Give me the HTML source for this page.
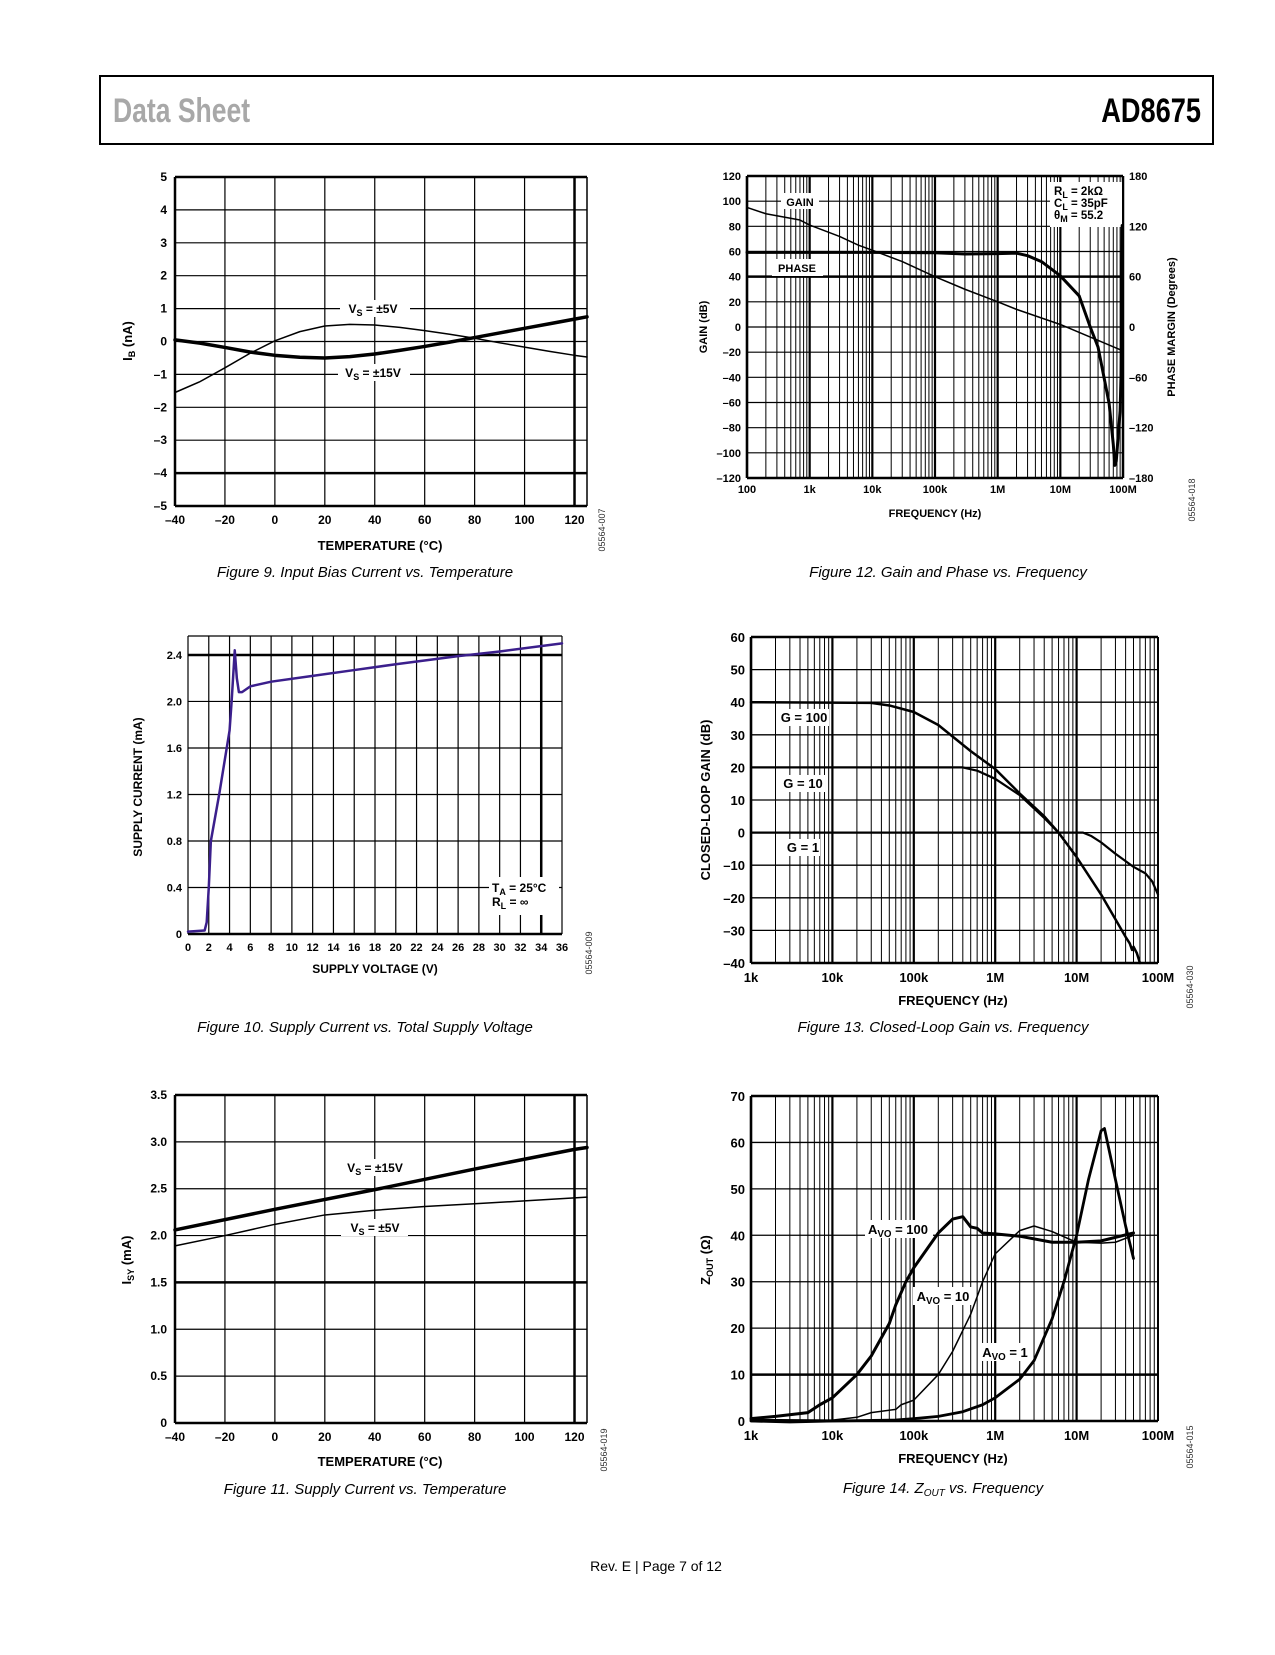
<!DOCTYPE html>
<html><head><meta charset="utf-8">
<style>
html,body{margin:0;padding:0;background:#fff;}
body{width:1275px;height:1650px;position:relative;overflow:hidden;font-family:"Liberation Sans",Arial,sans-serif;}
svg text{font-family:"Liberation Sans",Arial,sans-serif;}
</style></head>
<body>
<svg id="page" width="1275" height="1650" viewBox="0 0 1275 1650" xmlns="http://www.w3.org/2000/svg">
  <rect x="100" y="76" width="1113" height="68" fill="#fff" stroke="#000" stroke-width="2"/>
  <text x="113" y="122" font-size="34" font-weight="bold" fill="#a8a8a8" transform="translate(113,0) scale(0.78,1) translate(-113,0)">Data Sheet</text>
  <text x="1201" y="122" font-size="34" font-weight="bold" fill="#000" text-anchor="end" transform="translate(1201,0) scale(0.8,1) translate(-1201,0)">AD8675</text>
  <text x="656" y="1571" font-size="14" text-anchor="middle" fill="#000">Rev. E | Page 7 of 12</text>
  <g id="charts"></g>
</svg>
<script>
// ---------- Figure 9: input bias current vs temperature ----------
const f9Temp5 = [-40,-30,-20,-10,0,10,20,30,40,50,60,70,80,90,100,110,120,125];
const f9Ib5 = [-1.55,-1.22,-0.8,-0.36,0.02,0.3,0.47,0.52,0.5,0.43,0.33,0.22,0.1,-0.04,-0.17,-0.3,-0.42,-0.47];
const f9Temp15 = [-40,-30,-20,-10,0,10,20,30,40,50,60,70,80,90,100,110,120,125];
const f9Ib15 = [0.05,-0.05,-0.18,-0.32,-0.42,-0.48,-0.5,-0.46,-0.38,-0.27,-0.15,-0.02,0.12,0.26,0.4,0.54,0.68,0.75];
const f9XTicks = [-40,-20,0,20,40,60,80,100,120];
const f9YTicks = [-5,-4,-3,-2,-1,0,1,2,3,4,5];
// ---------- Figure 10: supply current vs supply voltage ----------
const f10V = [0,1.6,1.8,2,2.2,3,4,4.2,4.5,4.7,4.9,5.2,6,8,12,16,20,26,30,36];
const f10I = [0.02,0.03,0.1,0.4,0.8,1.2,1.75,2.0,2.44,2.2,2.08,2.08,2.13,2.17,2.22,2.27,2.32,2.39,2.43,2.5];
const f10XTicks = [0,2,4,6,8,10,12,14,16,18,20,22,24,26,28,30,32,34,36];
const f10YTicks = [0,0.4,0.8,1.2,1.6,2.0,2.4];
const f10YLabels = ["0","0.4","0.8","1.2","1.6","2.0","2.4"];
// ---------- Figure 11: supply current vs temperature ----------
const f11Temp15 = [-40,0,40,80,120,125];
const f11Isy15 = [2.06,2.28,2.49,2.71,2.92,2.94];
const f11Temp5 = [-40,-20,0,20,40,60,80,100,125];
const f11Isy5 = [1.89,2.0,2.12,2.22,2.27,2.31,2.34,2.37,2.41];
const f11YTicks = [0,0.5,1.0,1.5,2.0,2.5,3.0,3.5];
const f11YLabels = ["0","0.5","1.0","1.5","2.0","2.5","3.0","3.5"];
// ---------- Figure 12: gain and phase vs frequency ----------
const f12GainFreq = [100,200,700,1e3,3e3,6e3,1e4,3e4,1e5,3e5,1e6,2e6,1e7,3e7,9e7];
const f12Gain = [95,90,85,81,72,65,61,52,40,30,20,14,2,-8,-18];
const f12PhaseFreq = [100,1e4,1e5,3e5,1e6,2e6,3e6,5e6,1e7,2e7,3e7,4e7,6e7,7e7,7.4e7,7.8e7,9e7,9.5e7,9.7e7];
const f12Phase = [89,89,88.5,87,87.5,88,85,78,61,37,0,-24,-91,-140,-165,-160,-100,-30,121];
const f12GainTicks = [-120,-100,-80,-60,-40,-20,0,20,40,60,80,100,120];
const f12PhaseTicks = [-180,-120,-60,0,60,120,180];
const f12FreqTicks = [100,1e3,1e4,1e5,1e6,1e7,1e8];
const f12FreqLabels = ["100","1k","10k","100k","1M","10M","100M"];
// ---------- Figure 13: closed-loop gain vs frequency ----------
const f13Freq100 = [1e3,3e4,5e4,1e5,2e5,5e5,1e6,2e6,4e6,6e6,1e7,2e7,4e7,4.5e7,4.8e7,5e7,5.5e7,6e7];
const f13G100 = [40,39.8,39,37,33,25,19.5,12,5,0,-7.5,-19,-32,-34,-36,-35,-37,-40];
const f13Freq10 = [1e3,4e5,6e5,1e6,2e6,4e6,6e6];
const f13G10 = [20,20,19,16.5,11.5,4.5,0];
const f13Freq1 = [1e3,1.2e7,1.5e7,2e7,3e7,5e7,7e7,8.5e7,1e8];
const f13G1 = [0,0,-1,-3,-6.5,-10.5,-12.5,-15,-19];
const f13YTicks = [-40,-30,-20,-10,0,10,20,30,40,50,60];
const f13FreqTicks = [1e3,1e4,1e5,1e6,1e7,1e8];
const f13FreqLabels = ["1k","10k","100k","1M","10M","100M"];
// ---------- Figure 14: Zout vs frequency ----------
const f14Freq100 = [1e3,2e3,5e3,7e3,1e4,2e4,3e4,5e4,6e4,8e4,1e5,2e5,3e5,4e5,5e5,6e5,7e5,1e6,2e6,5e6,1e7,2e7,5e7];
const f14Z100 = [0.5,1,1.8,3.5,5,10,14,21,25,30,33,40.5,43.5,44,41.8,41.5,40.5,40.3,39.8,38.5,38.5,38.8,40.5];
const f14Freq10 = [1e3,1e4,2e4,3e4,6e4,7e4,1e5,2e5,3e5,5e5,7e5,1e6,2e6,3e6,5e6,1e7,2e7,3e7,5e7];
const f14Z10 = [0.3,0.2,0.8,1.8,2.5,3.5,4.5,10,15,23,30,36,41,42,40.8,38.5,38.3,38.5,40];
const f14Freq1 = [1e3,3e3,1e4,6e4,1e5,2e5,4e5,7e5,1e6,2e6,3e6,5e6,7e6,1e7,1.4e7,2e7,2.2e7,3e7,4e7,5e7];
const f14Z1 = [0,-0.2,0,0.2,0.5,1,2,3.5,5,9,13,22,30,40,52,62.5,63,52,42,35];
const f14YTicks = [0,10,20,30,40,50,60,70];

const NS = "http://www.w3.org/2000/svg";
const root = document.getElementById('charts');
function el(tag, attrs, parent){
  const e = document.createElementNS(NS, tag);
  for (const k in attrs) e.setAttribute(k, attrs[k]);
  (parent||root).appendChild(e);
  return e;
}
function linScale(d0,d1,r0,r1){return v=>r0+(v-d0)/(d1-d0)*(r1-r0);}
function logScale(d0,d1,r0,r1){return v=>r0+(Math.log10(v)-Math.log10(d0))/(Math.log10(d1)-Math.log10(d0))*(r1-r0);}
function hline(g,x0,x1,y,w){const l=el('line',{x1:x0,x2:x1,y1:y,y2:y,stroke:'#000','stroke-width':w},g);}
function vline(g,x,y0,y1,w){const l=el('line',{x1:x,x2:x,y1:y0,y2:y1,stroke:'#000','stroke-width':w},g);}
function series(g,xs,ys,sx,sy,w,name,color){
  let d='';
  for(let i=0;i<xs.length;i++){d+=(i?'L':'M')+sx(xs[i]).toFixed(2)+','+sy(ys[i]).toFixed(2);}
  const p=el('path',{d:d,fill:'none',stroke:color||'#000','stroke-width':w,'stroke-linejoin':'round','stroke-linecap':'round'},g);
  
  
  return p;
}
function txt(g,x,y,s,opts){
  const t=el('text',Object.assign({x:x,y:y,'font-size':12,'font-weight':'bold','text-anchor':'middle',fill:'#000'},opts||{}),g);
  t.textContent=s;
  return t;
}
function sublabel(g,x,y,main,sub,rest,fs,bg){
  if(bg){const r=el('rect',{x:bg[0],y:bg[1],width:bg[2],height:bg[3],fill:'#fff'},g);}
  const t=el('text',{x:x,y:y,'font-size':fs||12,'font-weight':'bold','text-anchor':'middle'},g);
  const a=el('tspan',{},t);a.textContent=main;
  const b=el('tspan',{dy:3,'font-size':(fs||12)*0.75},t);b.textContent=sub;
  const c=el('tspan',{dy:-3},t);c.textContent=rest;
  return t;
}
function rotText(g,x,y,s,fs,name,extra){
  const t=el('text',Object.assign({x:x,y:y,'font-size':fs,'font-weight':'bold','text-anchor':'middle',transform:`rotate(-90 ${x} ${y})`},extra||{}),g);
  t.textContent=s;
  
  
  return t;
}
function idText(g,x,y,s){
  const t=el('text',{x:x,y:y,'font-size':9,'text-anchor':'middle',fill:'#333',transform:`rotate(-90 ${x} ${y})`},g);
  t.textContent=s;
  
  
}
function caption(x,y,parts){
  const t=el('text',{x:x,y:y,'font-size':15,'font-style':'italic','text-anchor':'middle',fill:'#000'});
  
  
  parts.forEach(p=>{const s=el('tspan',p[1]||{},t);s.textContent=p[0];});
}
function logGrid(g,sx,f0,f1,y0,y1){
  for(let d=f0; d<f1*0.999; d*=10){
    for(let m=1;m<10;m++){
      const f=d*m;
      vline(g,sx(f),y0,y1,m===1?2.2:1);
    }
  }
}

// ===== Figure 9 =====
(function(){
  const g=el('g',{});
  const L=175,R=587,T=177,B=506;
  const sx=linScale(-40,125,L,R), sy=linScale(-5,5,B,T);
  f9YTicks.forEach(v=>{hline(g,L,R,sy(v),(v===5||v===-4||v===-5)?2.5:1.2);
    const t=txt(g,L-8,sy(v)+4,v<0?'\u2013'+(-v):String(v),{'text-anchor':'end'});});
  f9XTicks.forEach(v=>{vline(g,sx(v),T,B,v===120?2.5:1.2);
    const t=txt(g,sx(v),B+18,v<0?'\u2013'+(-v):String(v));});
  vline(g,L,T,B,2.5);vline(g,R,T,B,1.5);
  series(g,f9Temp5,f9Ib5,sx,sy,1.5,'series-vs-5v');
  series(g,f9Temp15,f9Ib15,sx,sy,3.5,'series-vs-15v');
  sublabel(g,373,313,'V','S',' = \u00b15V',12,[340,300,70,17]);
  sublabel(g,373,377,'V','S',' = \u00b115V',12,[338,364,72,17]);
  const xt=txt(g,380,550,'TEMPERATURE (\u00b0C)',{'font-size':13});
  const yt=el('text',{x:132,y:341,'font-size':13,'font-weight':'bold','text-anchor':'middle',transform:'rotate(-90 132 341)'},g);
  
  const a=el('tspan',{},yt);a.textContent='I';const b=el('tspan',{dy:3,'font-size':9},yt);b.textContent='B';const c=el('tspan',{dy:-3},yt);c.textContent=' (nA)';
  idText(g,605,530,'05564-007');
})();
caption(365,577,[['Figure 9. Input Bias Current vs. Temperature']]);

// ===== Figure 10 =====
(function(){
  const g=el('g',{});
  const L=188,R=562,T=636,B=934;
  const sx=linScale(0,36,L,R), sy=linScale(0,2.563,B,T);
  f10YTicks.forEach((v,i)=>{hline(g,L,R,sy(v),v===2.4?2.5:1.2);
    const t=txt(g,L-6,sy(v)+4,f10YLabels[i],{'text-anchor':'end','font-size':11});});
  hline(g,L,R,T,1.2);
  f10XTicks.forEach(v=>{vline(g,sx(v),T,B,v===34?2.5:1.2);
    const t=txt(g,sx(v),B+17,String(v),{'font-size':11});});
  hline(g,L,R,B,2.5);
  const r=el('rect',{x:489,y:877,width:70,height:38,fill:'#fff'},g);
  series(g,f10V,f10I,sx,sy,2.5,'series-supply-current','#3b1f8c');
  const t1=el('text',{x:492,y:892,'font-size':12,'font-weight':'bold'},g);
  let s=el('tspan',{},t1);s.textContent='T';s=el('tspan',{dy:3,'font-size':9},t1);s.textContent='A';s=el('tspan',{dy:-3},t1);s.textContent=' = 25\u00b0C';
  const t2=el('text',{x:492,y:906,'font-size':12,'font-weight':'bold'},g);
  s=el('tspan',{},t2);s.textContent='R';s=el('tspan',{dy:3,'font-size':9},t2);s.textContent='L';s=el('tspan',{dy:-3},t2);s.textContent=' = \u221e';
  const xt=txt(g,375,973,'SUPPLY VOLTAGE (V)',{'font-size':12});
  rotText(g,142,787,'SUPPLY CURRENT (mA)',12,'y-axis-title');
  idText(g,592,953,'05564-009');
})();
caption(365,1032,[['Figure 10. Supply Current vs. Total Supply Voltage']]);

// ===== Figure 11 =====
(function(){
  const g=el('g',{});
  const L=175,R=587,T=1095,B=1423;
  const sx=linScale(-40,125,L,R), sy=linScale(0,3.5,B,T);
  f11YTicks.forEach((v,i)=>{hline(g,L,R,sy(v),(v===3.5||v===1.5||v===0)?2.5:1.2);
    const t=txt(g,L-8,sy(v)+4,f11YLabels[i],{'text-anchor':'end'});});
  f9XTicks.forEach(v=>{vline(g,sx(v),T,B,v===120?2.5:1.2);
    const t=txt(g,sx(v),B+18,v<0?'\u2013'+(-v):String(v));});
  vline(g,L,T,B,2.5);vline(g,R,T,B,1.5);
  series(g,f11Temp5,f11Isy5,sx,sy,1.5,'series-vs-5v');
  series(g,f11Temp15,f11Isy15,sx,sy,3.5,'series-vs-15v');
  sublabel(g,375,1172,'V','S',' = \u00b115V',12,[340,1159,72,17]);
  sublabel(g,375,1232,'V','S',' = \u00b15V',12,[341,1219,67,17]);
  const xt=txt(g,380,1466,'TEMPERATURE (\u00b0C)',{'font-size':13});
  const yt=el('text',{x:131,y:1260,'font-size':13,'font-weight':'bold','text-anchor':'middle',transform:'rotate(-90 131 1260)'},g);
  
  let s=el('tspan',{},yt);s.textContent='I';s=el('tspan',{dy:3,'font-size':9},yt);s.textContent='SY';s=el('tspan',{dy:-3},yt);s.textContent=' (mA)';
  idText(g,607,1450,'05564-019');
})();
caption(365,1494,[['Figure 11. Supply Current vs. Temperature']]);

// ===== Figure 12 =====
(function(){
  const g=el('g',{});
  const L=747,R=1123,T=176,B=478;
  const sx=logScale(100,1e8,L,R), sy=linScale(-120,120,B,T), sp=linScale(-180,180,B,T);
  logGrid(g,sx,100,1e8,T,B);
  f12GainTicks.forEach(v=>{hline(g,L,R,sy(v),(v===40||v===120||v===-120)?2.5:1.2);
    const t=txt(g,L-6,sy(v)+4,v<0?'\u2013'+(-v):String(v),{'text-anchor':'end','font-size':11});});
  f12PhaseTicks.forEach(v=>{const t=txt(g,R+6,sp(v)+4,v<0?'\u2013'+(-v):String(v),{'text-anchor':'start','font-size':11});});
  f12FreqTicks.forEach((v,i)=>{const t=txt(g,sx(v),B+15,f12FreqLabels[i],{'font-size':11});});
  vline(g,L,T,B,2.5);vline(g,R,T,B,2.5);
  let r=el('rect',{x:781,y:193,width:38,height:16,fill:'#fff'},g);
  r=el('rect',{x:772,y:259,width:51,height:17,fill:'#fff'},g);
  r=el('rect',{x:1050,y:182,width:72,height:45,fill:'#fff'},g);
  series(g,f12GainFreq,f12Gain,sx,sy,1.5,'series-gain');
  series(g,f12PhaseFreq,f12Phase,sx,sp,3,'series-phase');
  let t=txt(g,800,206,'GAIN',{'font-size':11});
  t=txt(g,797,272,'PHASE',{'font-size':11});
  [['R','L',' = 2k\u03a9',195],['C','L',' = 35pF',207],['\u03b8','M',' = 55.2',219]].forEach(c=>{
    const tt=el('text',{x:1054,y:c[3],'font-size':11.5,'font-weight':'bold'},g);
    let s=el('tspan',{},tt);s.textContent=c[0];s=el('tspan',{dy:3,'font-size':9},tt);s.textContent=c[1];s=el('tspan',{dy:-3},tt);s.textContent=c[2];
  });
  t=txt(g,935,517,'FREQUENCY (Hz)',{'font-size':11});
  rotText(g,707,327,'GAIN (dB)',11,'y-axis-title');
  rotText(g,1175,327,'PHASE MARGIN (Degrees)',11,'y2-axis-title');
  idText(g,1195,500,'05564-018');
})();
caption(948,577,[['Figure 12. Gain and Phase vs. Frequency']]);

// ===== Figure 13 =====
(function(){
  const g=el('g',{});
  const L=751,R=1158,T=637,B=963;
  const sx=logScale(1e3,1e8,L,R), sy=linScale(-40,60,B,T);
  logGrid(g,sx,1e3,1e8,T,B);
  f13YTicks.forEach(v=>{hline(g,L,R,sy(v),(v===60||v===-40)?2.5:1.3);
    const t=txt(g,L-6,sy(v)+5,v<0?'\u2013'+(-v):String(v),{'text-anchor':'end','font-size':13});});
  f13FreqTicks.forEach((v,i)=>{const t=txt(g,sx(v),B+19,f13FreqLabels[i],{'font-size':13});});
  vline(g,L,T,B,2.5);vline(g,R,T,B,2);
  [[779,709,50,17],[781,775,44,17],[787,839,33,17]].forEach(b=>{const r=el('rect',{x:b[0],y:b[1],width:b[2],height:b[3],fill:'#fff'},g);});
  series(g,f13Freq1,f13G1,sx,sy,2.2,'series-g1');
  series(g,f13Freq10,f13G10,sx,sy,2.2,'series-g10');
  series(g,f13Freq100,f13G100,sx,sy,2.5,'series-g100');
  let t=txt(g,804,722,'G = 100',{'font-size':13});
  t=txt(g,803,788,'G = 10',{'font-size':13});
  t=txt(g,803,852,'G = 1',{'font-size':13});
  t=txt(g,953,1005,'FREQUENCY (Hz)',{'font-size':13});
  rotText(g,710,800,'CLOSED-LOOP GAIN (dB)',13,'y-axis-title');
  idText(g,1193,987,'05564-030');
})();
caption(943,1032,[['Figure 13. Closed-Loop Gain vs. Frequency']]);

// ===== Figure 14 =====
(function(){
  const g=el('g',{});
  const L=751,R=1158,T=1096,B=1421;
  const sx=logScale(1e3,1e8,L,R), sy=linScale(0,70,B,T);
  logGrid(g,sx,1e3,1e8,T,B);
  f14YTicks.forEach(v=>{hline(g,L,R,sy(v),(v===70||v===10||v===0)?2.5:1.3);
    const t=txt(g,L-6,sy(v)+5,String(v),{'text-anchor':'end','font-size':13});});
  f13FreqTicks.forEach((v,i)=>{const t=txt(g,sx(v),B+19,f13FreqLabels[i],{'font-size':13});});
  vline(g,L,T,B,2.5);vline(g,R,T,B,2);
  [[865,1220,68,18],[913,1287,60,18],[981,1343,50,18]].forEach(b=>{const r=el('rect',{x:b[0],y:b[1],width:b[2],height:b[3],fill:'#fff'},g);});
  series(g,f14Freq10,f14Z10,sx,sy,1.5,'series-avo10');
  series(g,f14Freq1,f14Z1,sx,sy,2.8,'series-avo1');
  series(g,f14Freq100,f14Z100,sx,sy,3,'series-avo100');
  sublabel(g,898,1234,'A','VO',' = 100',13);
  sublabel(g,943,1301,'A','VO',' = 10',13);
  sublabel(g,1005,1357,'A','VO',' = 1',13);
  const t=txt(g,953,1463,'FREQUENCY (Hz)',{'font-size':13});
  const yt=el('text',{x:710,y:1260,'font-size':13,'font-weight':'bold','text-anchor':'middle',transform:'rotate(-90 710 1260)'},g);
  
  let s=el('tspan',{},yt);s.textContent='Z';s=el('tspan',{dy:3,'font-size':9},yt);s.textContent='OUT';s=el('tspan',{dy:-3},yt);s.textContent=' (\u03a9)';
  idText(g,1193,1447,'05564-015');
})();
caption(943,1493,[['Figure 14. Z'],['OUT',{dy:3,'font-size':10}],[' vs. Frequency',{dy:-3}]]);
</script>
</body></html>
